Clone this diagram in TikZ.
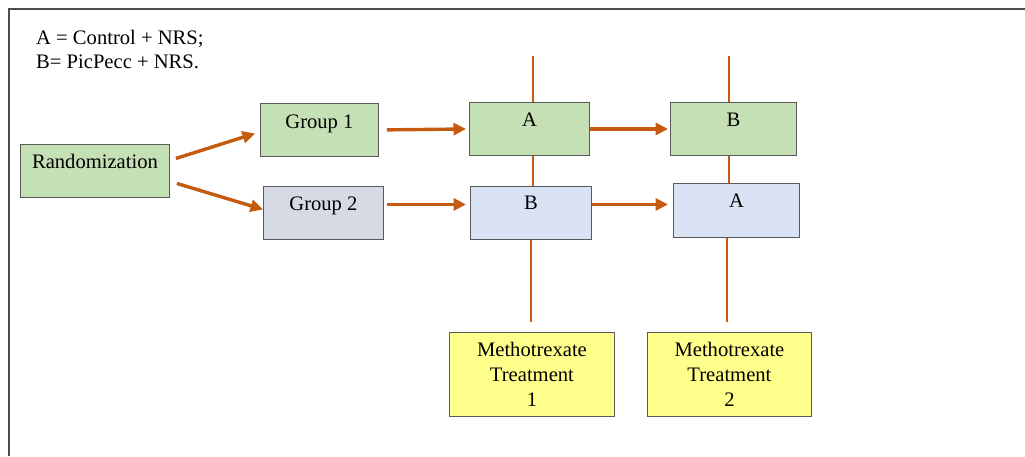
\documentclass[tikz,border=0pt]{standalone}
\usepackage{fontspec}
\setmainfont{Liberation Serif}
\usetikzlibrary{calc,arrows.meta}

\definecolor{boxgreen}{HTML}{C5E0B4}
\definecolor{boxgrey}{HTML}{D6DAE4}
\definecolor{boxblue}{HTML}{DAE3F3}
\definecolor{boxyellow}{HTML}{FFFF8B}
\definecolor{linkorange}{HTML}{C55A11}
\definecolor{edgegrey}{HTML}{595959}

\tikzset{
  box/.style={draw=edgegrey,line width=0.9pt,inner sep=0pt,anchor=north west,
    font=\fontsize{20.6}{24}\selectfont,text height=24pt,text depth=29pt},
  treatbox/.style={draw=edgegrey,line width=0.9pt,inner sep=0pt,anchor=north west,
    fill=boxyellow,align=center,minimum width=165pt,minimum height=84pt,
    font=\fontsize{20.6}{25}\selectfont},
  arr/.style={-{Triangle[length=12.5pt,width=12pt]},line width=3.4pt,color=linkorange},
  rail/.style={line width=2pt,color=linkorange}
}

\begin{document}
\begin{tikzpicture}[x=1pt,y=-1pt]
                      \useasboundingbox (0,0) rectangle (1025,456);
                      \draw[line width=1.2pt,color=black!70] (9,456) -- (9,9) -- (1025,9);
                      \node[anchor=north west,inner sep=0pt,align=left,
                        font=\fontsize{20.6}{24}\selectfont](key)at(36,30){A = Control + NRS;\\B= PicPecc + NRS.};
                      % boxes
                      \node[box,fill=boxgreen,minimum width=149pt](rand)at(20,144){Randomization};
                      \node[box,fill=boxgreen,minimum width=118pt,text height=25pt,text depth=28pt](g1)at(260,103){Group 1};
                      \node[box,fill=boxgrey,minimum width=120pt](g2)at(263,186){Group 2};
                      \node[box,fill=boxgreen,minimum width=120pt](a1)at(469,102){A};
                      \node[box,fill=boxgreen,minimum width=126pt](b1)at(670,102){B};
                      \node[box,fill=boxblue,minimum width=121pt,text height=23pt,text depth=30pt](b2)at(470,186){B};
                      \node[box,fill=boxblue,minimum width=126pt,text depth=30pt](a2)at(673,183){A};
                      \node[treatbox](m1)at(449,332){Methotrexate\\Treatment\\1};
                      \node[treatbox,minimum width=164pt](m2)at(647,332){Methotrexate\\Treatment\\2};
                      % vertical lines
                      \coordinate(t1)at(533,56);
                      \coordinate(t2)at(729,56);
                      \draw[rail](t1)--(t1|-a1.north);
                      \draw[rail](t2)--(t2|-b1.north);
                      \draw[rail](t1|-a1.south)--(t1|-b2.north);
                      \draw[rail](t2|-b1.south)--(t2|-a2.north);
                      \draw[rail]([xshift=-2pt]t1|-b2.south)--([xshift=-2pt,yshift=10pt]t1|-m1.north);
                      \draw[rail]([xshift=-2pt]t2|-a2.south)--([xshift=-2pt,yshift=10pt]t2|-m2.north);
                      % arrows
                      \draw[arr]($(rand.east)+(6,-12.5)$)--($(g1.west)+(-5,3.5)$);
                      \draw[arr]($(rand.east)+(7,12.5)$)--($(g2.west)+(0,-3.5)$);
                      \draw[arr,shorten <=8pt,shorten >=3pt](g1.east)--(a1.west);
                      \draw[arr,shorten <=3pt,shorten >=4pt]($(g2.east)+(0,-8.5)$)--($(b2.west)+(0,-8.5)$);
                      \draw[arr,shorten >=2pt](a1.east)--(b1.west);
                      \draw[arr,shorten >=5pt]($(b2.east)+(0,-8.5)$)--($(a2.west)+(0,-6)$);
                  \end{tikzpicture}
\end{document}
